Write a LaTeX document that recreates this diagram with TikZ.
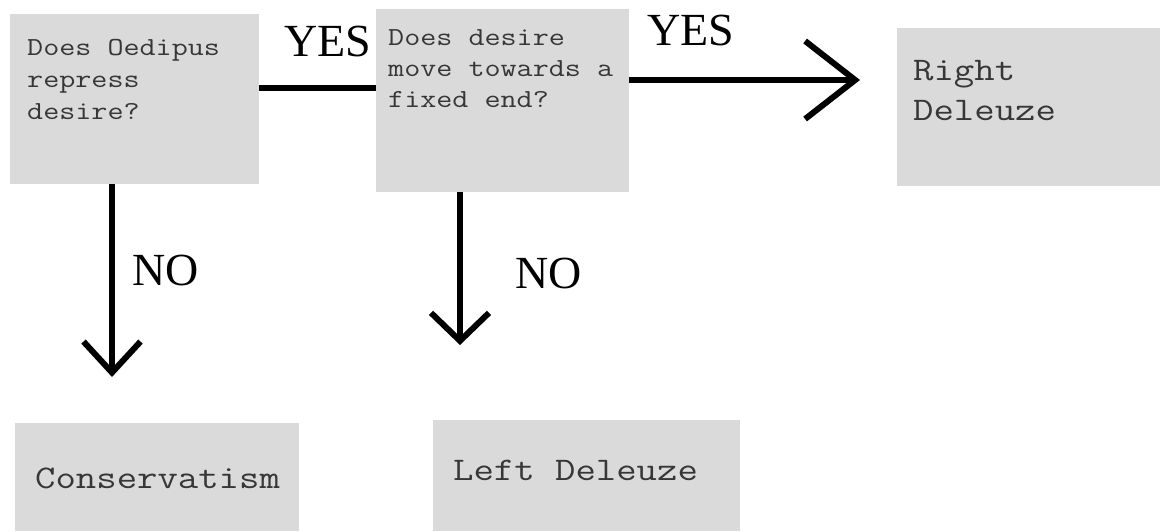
\documentclass[tikz,border=0pt]{standalone}
\usepackage{fontspec}
\newfontfamily\monofnt[FakeStretch=1.2]{Latin Modern Mono}
\newfontfamily\seriffnt{Liberation Serif}
\usetikzlibrary{arrows.meta}
\definecolor{boxgray}{RGB}{218,218,218}
\definecolor{txtgray}{RGB}{55,55,55}
\newcommand{\boxtxt}[5]{\parbox[t][#2][t]{#1}{\leftskip=#3\relax\rule{0pt}{#4}#5}}
\tikzset{
  qbox/.style={fill=boxgray, draw=none, anchor=north west, inner sep=0pt, text=txtgray},
  monoA/.style={font=\monofnt\fontsize{26}{32}\selectfont},
  monoB/.style={font=\monofnt\fontsize{26}{31}\selectfont},
  monoC/.style={font=\monofnt\fontsize{33}{40}\selectfont},
  conn/.style={line width=6pt, black},
  lbl/.style={font=\seriffnt\fontsize{46}{50}\selectfont, anchor=base west, inner sep=0pt, text=black},
}
\begin{document}
\begin{tikzpicture}[x=1pt,y=-1pt]
\useasboundingbox[fill=white] (0,0) rectangle (1163,531);
% boxes
\node[qbox, monoA] (q1) at (10,14) {\boxtxt{249pt}{170pt}{17pt}{41pt}{Does Oedipus\\repress\\desire?}};
\node[qbox, monoB] (q2) at (376,9) {\boxtxt{253pt}{183pt}{12pt}{36pt}{Does desire\\move towards a\\fixed end?}};
\node[qbox, monoC] (r) at (897,28) {\boxtxt{263pt}{158pt}{16pt}{52pt}{Right\\Deleuze}};
\node[qbox, monoC] (c) at (15,423) {\boxtxt{284pt}{108pt}{20pt}{65pt}{Conservatism}};
\node[qbox, monoC] (l) at (433,420) {\boxtxt{307pt}{111pt}{20pt}{60pt}{Left Deleuze}};
% connectors
\coordinate (t1) at (112,377);
\coordinate (t2) at (460,345);
\coordinate (t3) at (860,80);
\draw[conn] (q1.east |- 0,88) -- (q2.west |- 0,88);
\draw[conn, -{Straight Barb[length=31pt,width=57pt]}] (q1.south -| t1) -- (t1);
\draw[conn, -{Straight Barb[length=28pt,width=58pt]}] (q2.south -| t2) -- (t2);
\draw[conn, -{Straight Barb[length=50pt,width=78pt]}] (q2.east |- t3) -- (t3);
% labels
\node[lbl] (yes1) at (284,56) {YES};
\node[lbl] (yes2) at (647,45) {YES};
\node[lbl] (no1) at (132,285) {NO};
\node[lbl] (no2) at (515,288) {NO};
\end{tikzpicture}
\end{document}
